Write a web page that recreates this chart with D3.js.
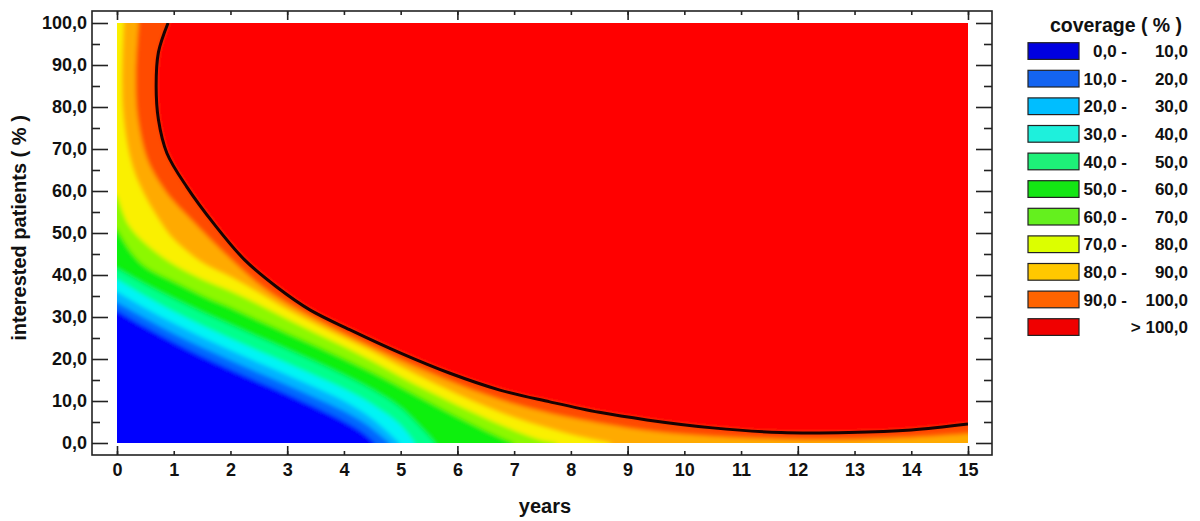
<!DOCTYPE html>
<html><head><meta charset="utf-8">
<script src="https://cdn.jsdelivr.net/npm/d3@7"></script>
<style>
body{margin:0;background:#fff}
text{font-family:"Liberation Sans",Arial,sans-serif;font-weight:bold;fill:#111}
</style>
</head><body>
<svg id="chart" width="1200" height="521"></svg>
<script>
// ---------- data ----------
const levels = [10, 20, 30, 40, 50, 60, 70, 80, 90, 100];
// contour lines [years, interested %] from the left/top edge to the bottom/right edge
const contour10 = [[0,31.5],[0.5,27.6],[1,24],[1.5,20.6],[2,17.5],[2.5,14.5],[3,11.6],[3.5,8.5],[4,5.2],[4.3,2.8],[4.55,0]];
const contour20 = [[0,33.5],[0.5,29.7],[1,26.1],[1.5,22.8],[2,19.7],[2.5,16.7],[3,13.8],[3.5,10.8],[4,7.6],[4.4,4.4],[4.8,0]];
const contour30 = [[0,36],[0.5,32.1],[1,28.5],[1.5,25.2],[2,22.1],[2.5,19.1],[3,16.2],[3.5,13.2],[4,10],[4.5,5.8],[4.98,0]];
const contour40 = [[0,39],[0.5,35],[1,31.3],[1.5,28],[2,24.9],[2.5,21.9],[3,19],[3.5,16],[4,12.9],[4.5,9.2],[5,4.2],[5.25,0]];
const contour50 = [[0,41.5],[0.5,37.7],[1,34.3],[1.5,31.1],[2,28.1],[2.5,25.1],[3,22.2],[3.5,19.2],[4,16.1],[4.5,12.6],[5,8.3],[5.4,3],[5.6,0]];
const contour60 = [[0,51],[0.25,45.5],[0.5,42],[1,38.5],[1.5,35.2],[2,32.3],[2.5,29.2],[3,26.2],[3.5,23.2],[4,20.1],[4.5,16.9],[5,13.4],[5.5,9.8],[6,6.3],[6.5,3],[7,0]];
const contour70 = [[0,59],[0.2,52],[0.5,47.5],[1,42.5],[1.5,39],[2,36.2],[2.5,33],[3,29.5],[3.5,26.2],[4,23],[4.5,19.5],[5,15.8],[5.5,12.3],[6,9],[6.5,5.9],[7,3],[7.45,0.8],[7.75,0]];
const contour80 = [[0.12,100],[0.1,80],[0.25,67],[0.45,60],[0.75,53],[1,48.5],[1.5,43],[2,39.6],[2.5,35.8],[3,31.8],[3.5,28.3],[4,25],[4.5,21.8],[5,18.2],[5.5,14.8],[6,11.6],[6.5,8.7],[7,6.1],[7.5,3.9],[8,2],[8.7,0]];
const contour90 = [[0.38,100],[0.33,88],[0.36,78],[0.55,67],[0.85,60],[1,57.5],[1.5,50.5],[2,43.8],[2.5,37.8],[3,33.2],[3.5,29.5],[4,26],[4.5,22.8],[5,19.7],[5.5,16.8],[6,14],[6.5,11.5],[7,9.3],[7.5,7.5],[8,6],[9,3.6],[10,2],[11,1.2],[12,0.8],[13,0.8],[14,1.3],[15,2.2]];
const contour100 = [[0.9,100],[0.73,93],[0.69,85],[0.73,77],[0.88,69],[1.23,61],[1.72,52],[2.25,43.6],[2.81,37.2],[3.4,31.7],[4.1,27],[5,21.4],[5.87,16.6],[6.75,12.6],[7.63,9.8],[8.5,7.3],[9.34,5.5],[10.5,3.6],[11.7,2.5],[12.9,2.5],[14,3.1],[15,4.5]];
const contours = [contour10, contour20, contour30, contour40, contour50, contour60, contour70, contour80, contour90, contour100];
// heat-map colours: below the first level, then the region above each level
const heatBase = "#0000ff";
const heatColors = ["#0068ff","#00b4ff","#00f4f4","#00ff8c","#08f008","#8cf800","#faf000","#ffaa00","#ff4c00","#ff0000"];

const xTickValues = [0,1,2,3,4,5,6,7,8,9,10,11,12,13,14,15];
const xMajorValues = [0,3,6,9,12,15];
const yTickValues = [0,10,20,30,40,50,60,70,80,90,100];
const yMinorValues = [5,15,25,35,45,55,65,75,85,95];
const yTickLabels = ["0,0","10,0","20,0","30,0","40,0","50,0","60,0","70,0","80,0","90,0","100,0"];

const legendLeft = ["0,0 -","10,0 -","20,0 -","30,0 -","40,0 -","50,0 -","60,0 -","70,0 -","80,0 -","90,0 -",""];
const legendRight = ["10,0","20,0","30,0","40,0","50,0","60,0","70,0","80,0","90,0","100,0","> 100,0"];
const legendColors = ["#0000e0","#1464f0","#00beff","#1ef0dc","#1ef078","#14e614","#64f01e","#dcff00","#ffc800","#ff6400","#f00000"];

// ---------- layout ----------
const svg = d3.select("#chart");
const frame = {left:92, top:11, right:992, bottom:455};
const x = d3.scaleLinear().domain([0,15]).range([117,968]);
const y = d3.scaleLinear().domain([0,100]).range([443,23]);
const FS = 18, FT = 20, FL = 17;

const defs = svg.append("defs");
defs.append("clipPath").attr("id","plotClip").append("rect")
  .attr("x", x(0)).attr("y", y(100)).attr("width", x(15)-x(0)).attr("height", y(0)-y(100));
defs.append("filter").attr("id","soft").attr("x","-5%").attr("y","-5%").attr("width","110%").attr("height","110%")
  .append("feGaussianBlur").attr("stdDeviation", 2);

// heat map bands
const clipG = svg.append("g").attr("clip-path","url(#plotClip)");
const heat = clipG.append("g").attr("filter","url(#soft)");
heat.append("rect").attr("x", x(-1)).attr("y", y(105)).attr("width", x(16)-x(-1)).attr("height", y(-5)-y(105)).attr("fill", heatBase);

const lineGen = d3.line().x(d => x(d[0])).y(d => y(d[1])).curve(d3.curveCatmullRom.alpha(0.5));
function regionPath(pts){
  const s = pts[0], e = pts[pts.length-1];
  const extra = [];
  if (e[1] <= 0.01) { extra.push([e[0], -5], [16, -5]); }
  else { extra.push([16, e[1]]); }
  extra.push([16, 105]);
  if (s[0] <= 0.01) { extra.push([-1, 105], [-1, s[1]]); }
  else { extra.push([s[0], 105]); }
  return lineGen(pts) + extra.map(p => "L" + x(p[0]) + "," + y(p[1])).join("") + "Z";
}
heat.selectAll("path.band").data(contours).join("path").attr("class","band")
  .attr("d", d => regionPath(d)).attr("fill", (d,i) => heatColors[i]);

// 100 % contour line
clipG.append("path").attr("d", lineGen(contour100)).attr("fill","none")
  .attr("stroke","#180303").attr("stroke-width",3);

// frame
svg.append("rect").attr("x",frame.left).attr("y",frame.top)
  .attr("width",frame.right-frame.left).attr("height",frame.bottom-frame.top)
  .attr("fill","none").attr("stroke","#222").attr("stroke-width",1.6);

function styleAxis(g){ g.select(".domain").remove(); g.selectAll("line").attr("stroke","#222").attr("stroke-width",1.6); }
// bottom axis
svg.append("g").attr("transform",`translate(0,${frame.bottom})`)
  .call(d3.axisBottom(x).tickValues(xTickValues).tickFormat(d=>String(d)).tickSizeInner(-4).tickSizeOuter(0).tickPadding(8))
  .call(styleAxis)
  .call(g => g.selectAll("text").attr("font-size",FS).attr("fill","#111").attr("font-family",null));
svg.append("g").attr("transform",`translate(0,${frame.bottom})`)
  .call(d3.axisBottom(x).tickValues(xMajorValues).tickFormat("").tickSizeInner(-9).tickSizeOuter(0)).call(styleAxis);
// top axis
svg.append("g").attr("transform",`translate(0,${frame.top})`)
  .call(d3.axisTop(x).tickValues(xTickValues).tickFormat("").tickSizeInner(-4).tickSizeOuter(0)).call(styleAxis);
svg.append("g").attr("transform",`translate(0,${frame.top})`)
  .call(d3.axisTop(x).tickValues(xMajorValues).tickFormat("").tickSizeInner(-9).tickSizeOuter(0)).call(styleAxis);
// left axis
svg.append("g").attr("transform",`translate(${frame.left},0)`)
  .call(d3.axisLeft(y).tickValues(yTickValues).tickFormat((d,i)=>yTickLabels[i]).tickSizeInner(-16).tickSizeOuter(0).tickPadding(5))
  .call(styleAxis)
  .call(g => g.selectAll("text").attr("font-size",FS).attr("fill","#111").attr("font-family",null));
svg.append("g").attr("transform",`translate(${frame.left},0)`)
  .call(d3.axisLeft(y).tickValues(yMinorValues).tickFormat("").tickSizeInner(-8).tickSizeOuter(0)).call(styleAxis);
// right axis
svg.append("g").attr("transform",`translate(${frame.right},0)`)
  .call(d3.axisRight(y).tickValues(yTickValues).tickFormat("").tickSizeInner(-16).tickSizeOuter(0)).call(styleAxis);
svg.append("g").attr("transform",`translate(${frame.right},0)`)
  .call(d3.axisRight(y).tickValues(yMinorValues).tickFormat("").tickSizeInner(-8).tickSizeOuter(0)).call(styleAxis);

// axis titles
svg.append("text").attr("x",545).attr("y",513).attr("text-anchor","middle").attr("font-size",FT).text("years");
svg.append("text").attr("transform","translate(26,228) rotate(-90)").attr("text-anchor","middle").attr("font-size",FT)
  .text("interested patients ( % )");

// legend
const lg = svg.append("g");
lg.append("text").attr("x",1116).attr("y",32).attr("text-anchor","middle").attr("font-size",19.5).text("coverage ( % )");
const rows = lg.selectAll("g.row").data(legendColors).join("g").attr("class","row")
  .attr("transform",(d,i)=>`translate(0,${42.7 + i*27.6})`);
rows.append("rect").attr("x",1028).attr("y",0).attr("width",51).attr("height",16.7)
  .attr("fill",d=>d).attr("stroke","#222").attr("stroke-width",1.2);
rows.append("text").attr("x",1127).attr("y",14.5).attr("text-anchor","end").attr("font-size",FL).text((d,i)=>legendLeft[i]);
rows.append("text").attr("x",1188).attr("y",14.5).attr("text-anchor","end").attr("font-size",FL).text((d,i)=>legendRight[i]);
</script>
</body></html>
